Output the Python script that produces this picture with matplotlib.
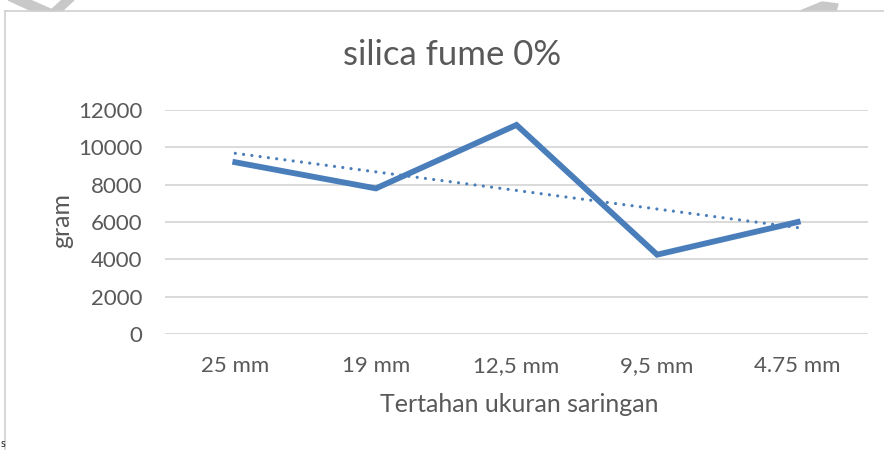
import numpy as np
import matplotlib.pyplot as plt
from matplotlib.lines import Line2D
from matplotlib.patches import Polygon

plt.rcParams['font.family'] = ['Lato', 'DejaVu Sans']

# berat tertahan tiap ukuran saringan
ukuran = ['25 mm', '19 mm', '12,5 mm', '9,5 mm', '4.75 mm']
berat = [9200, 7800, 11200, 4250, 6000]
yticks = [0, 2000, 4000, 6000, 8000, 10000, 12000]

W, H = 884, 450
teks = '#595959'
biru = '#4A7EBB'

fig = plt.figure(figsize=(W/100, H/100), dpi=100)
ax = fig.add_axes([165/W, 1-334/H, 703/W, 224/H])

x = np.arange(len(ukuran))
ax.plot(x, berat, color=biru, lw=4.2, solid_joinstyle='miter', zorder=3)

# garis tren linear
k, b = np.polyfit(x + 1, berat, 1)
ax.plot(x, k*(x + 1) + b, color=biru, lw=2.3, ls=(0, (0.01, 2.6)),
        dash_capstyle='round', zorder=4)

ax.set_xlim(-0.5, len(ukuran) - 0.5)
ax.set_ylim(0, 12000)
ax.set_yticks(yticks)
ax.set_yticklabels([str(v) for v in yticks])
ax.set_xticks(x)
ax.set_xticklabels(ukuran)
ax.yaxis.grid(True, color='#d9d9d9', lw=1.4)
ax.set_axisbelow(True)
for s in ax.spines.values():
    s.set_visible(False)
ax.tick_params(length=0, labelsize=16, labelcolor=teks)
ax.tick_params(axis='y', pad=16.5)
ax.tick_params(axis='x', pad=16)

fig.text(452/W, 1-65/H, 'silica fume 0%', fontsize=25, color=teks,
         ha='center', va='baseline')
fig.text(519/W, 1-412/H, 'Tertahan ukuran saringan', fontsize=18, color=teks,
         ha='center', va='baseline')
fig.text(62/W, 1-220/H, 'gram', fontsize=18, color=teks, rotation=90,
         ha='center', va='center')

# bingkai area grafik
fig.add_artist(Line2D([5/W, 5/W], [0, 1-11/H], color='#d0d0d0', lw=1.2))
fig.add_artist(Line2D([5/W, 1], [1-11/H, 1-11/H], color='#d0d0d0', lw=1.2))

# potongan gambar di atas bingkai
abu = '#c8c8c8'
for pts in ([[8, 0], [30, 0], [55, 11], [32, 11]],
            [[62, 0], [74, 0], [62, 11], [50, 11]],
            [[800, 11], [822, 2], [838, 4], [836, 11]]):
    fig.add_artist(Polygon([[px/W, 1-py/H] for px, py in pts], closed=True,
                           color=abu, transform=fig.transFigure))
fig.text(1/W, 1/H, 's', fontsize=8, color='#222222', ha='left', va='bottom')

fig.savefig('out.png', dpi=100)
